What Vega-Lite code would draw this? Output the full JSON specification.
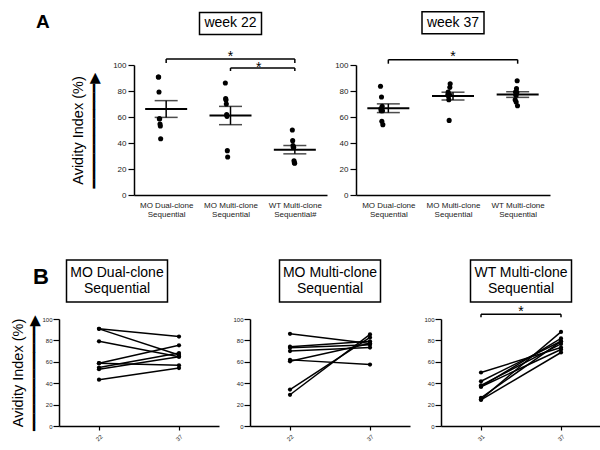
{
  "$schema": "https://vega.github.io/schema/vega-lite/v6.json",
  "background": "white",
  "padding": {"left": 10, "top": 8, "right": 0, "bottom": 0},
  "config": {
    "view": {"stroke": null},
    "font": "Liberation Sans",
    "axis": {"labelFont": "Liberation Sans", "titleFont": "Liberation Sans, DejaVu Sans", "domainColor": "#000", "tickColor": "#000", "labelColor": "#222", "grid": false, "titleFontWeight": "normal", "titleColor": "#000", "domainWidth": 1.5, "tickWidth": 1.2, "labelOverlap": false},
    "title": {"font": "Liberation Sans", "fontWeight": "bold", "color": "#000"}
  },
  "datasets": {
    "avidity": [
      {"group": "MO Dual-clone Sequential", "id": "D1", "visit": "first", "week": "22", "avidity": 90.8},
      {"group": "MO Dual-clone Sequential", "id": "D2", "visit": "first", "week": "22", "avidity": 90.8},
      {"group": "MO Dual-clone Sequential", "id": "D3", "visit": "first", "week": "22", "avidity": 79.2},
      {"group": "MO Dual-clone Sequential", "id": "D4", "visit": "first", "week": "22", "avidity": 58.7},
      {"group": "MO Dual-clone Sequential", "id": "D5", "visit": "first", "week": "22", "avidity": 58.7},
      {"group": "MO Dual-clone Sequential", "id": "D6", "visit": "first", "week": "22", "avidity": 54.6},
      {"group": "MO Dual-clone Sequential", "id": "D7", "visit": "first", "week": "22", "avidity": 53.1},
      {"group": "MO Dual-clone Sequential", "id": "D8", "visit": "first", "week": "22", "avidity": 43.3},
      {"group": "MO Dual-clone Sequential", "id": "D1", "visit": "second", "week": "37", "avidity": 83.6},
      {"group": "MO Dual-clone Sequential", "id": "D2", "visit": "second", "week": "37", "avidity": 66.4},
      {"group": "MO Dual-clone Sequential", "id": "D3", "visit": "second", "week": "37", "avidity": 64.8},
      {"group": "MO Dual-clone Sequential", "id": "D4", "visit": "second", "week": "37", "avidity": 75.4},
      {"group": "MO Dual-clone Sequential", "id": "D5", "visit": "second", "week": "37", "avidity": 56.7},
      {"group": "MO Dual-clone Sequential", "id": "D6", "visit": "second", "week": "37", "avidity": 68.2},
      {"group": "MO Dual-clone Sequential", "id": "D7", "visit": "second", "week": "37", "avidity": 64.8},
      {"group": "MO Dual-clone Sequential", "id": "D8", "visit": "second", "week": "37", "avidity": 54.1},
      {"group": "MO Multi-clone Sequential", "id": "M1", "visit": "first", "week": "22", "avidity": 86.2},
      {"group": "MO Multi-clone Sequential", "id": "M2", "visit": "first", "week": "22", "avidity": 74.1},
      {"group": "MO Multi-clone Sequential", "id": "M3", "visit": "first", "week": "22", "avidity": 73.1},
      {"group": "MO Multi-clone Sequential", "id": "M4", "visit": "first", "week": "22", "avidity": 70.0},
      {"group": "MO Multi-clone Sequential", "id": "M5", "visit": "first", "week": "22", "avidity": 61.8},
      {"group": "MO Multi-clone Sequential", "id": "M6", "visit": "first", "week": "22", "avidity": 60.5},
      {"group": "MO Multi-clone Sequential", "id": "M7", "visit": "first", "week": "22", "avidity": 34.1},
      {"group": "MO Multi-clone Sequential", "id": "M8", "visit": "first", "week": "22", "avidity": 29.2},
      {"group": "MO Multi-clone Sequential", "id": "M1", "visit": "second", "week": "37", "avidity": 77.2},
      {"group": "MO Multi-clone Sequential", "id": "M2", "visit": "second", "week": "37", "avidity": 79.2},
      {"group": "MO Multi-clone Sequential", "id": "M3", "visit": "second", "week": "37", "avidity": 75.9},
      {"group": "MO Multi-clone Sequential", "id": "M4", "visit": "second", "week": "37", "avidity": 73.3},
      {"group": "MO Multi-clone Sequential", "id": "M5", "visit": "second", "week": "37", "avidity": 57.4},
      {"group": "MO Multi-clone Sequential", "id": "M6", "visit": "second", "week": "37", "avidity": 77.2},
      {"group": "MO Multi-clone Sequential", "id": "M7", "visit": "second", "week": "37", "avidity": 82.8},
      {"group": "MO Multi-clone Sequential", "id": "M8", "visit": "second", "week": "37", "avidity": 85.6},
      {"group": "WT Multi-clone Sequential", "id": "W1", "visit": "first", "week": "31", "avidity": 50.0},
      {"group": "WT Multi-clone Sequential", "id": "W2", "visit": "first", "week": "31", "avidity": 41.8},
      {"group": "WT Multi-clone Sequential", "id": "W3", "visit": "first", "week": "31", "avidity": 38.0},
      {"group": "WT Multi-clone Sequential", "id": "W4", "visit": "first", "week": "31", "avidity": 36.7},
      {"group": "WT Multi-clone Sequential", "id": "W5", "visit": "first", "week": "31", "avidity": 36.7},
      {"group": "WT Multi-clone Sequential", "id": "W6", "visit": "first", "week": "31", "avidity": 26.4},
      {"group": "WT Multi-clone Sequential", "id": "W7", "visit": "first", "week": "31", "avidity": 24.9},
      {"group": "WT Multi-clone Sequential", "id": "W8", "visit": "first", "week": "31", "avidity": 24.4},
      {"group": "WT Multi-clone Sequential", "id": "W1", "visit": "second", "week": "37", "avidity": 73.3},
      {"group": "WT Multi-clone Sequential", "id": "W2", "visit": "second", "week": "37", "avidity": 79.2},
      {"group": "WT Multi-clone Sequential", "id": "W3", "visit": "second", "week": "37", "avidity": 76.7},
      {"group": "WT Multi-clone Sequential", "id": "W4", "visit": "second", "week": "37", "avidity": 71.5},
      {"group": "WT Multi-clone Sequential", "id": "W5", "visit": "second", "week": "37", "avidity": 81.8},
      {"group": "WT Multi-clone Sequential", "id": "W6", "visit": "second", "week": "37", "avidity": 79.0},
      {"group": "WT Multi-clone Sequential", "id": "W7", "visit": "second", "week": "37", "avidity": 87.9},
      {"group": "WT Multi-clone Sequential", "id": "W8", "visit": "second", "week": "37", "avidity": 68.7}
    ]
  },
  "spacing": 38,
  "vconcat": [
    {
      "title": {"text": "A", "anchor": "start", "fontSize": 19, "offset": -23, "dx": 21},
      "spacing": 7,
      "hconcat": [
        {
          "width": 312, "height": 130,
          "resolve": {"axis": {"x": "independent", "y": "independent"}},
          "layer": [
            {
              "data": {"name": "avidity"},
              "transform": [{"filter": "datum.visit == 'first'"}],
              "mark": {"type": "circle", "size": 26, "color": "black", "opacity": 1},
              "encoding": {
                "x": {"field": "group", "type": "nominal", "scale": {"type": "point", "padding": 0.5, "range": [119, 312]},
                      "axis": {"title": null, "ticks": false, "labelAngle": 0, "labelFontSize": 8, "labelLineHeight": 9.5, "labelPadding": 6,
                               "labelExpr": "[replace(datum.value, ' Sequential', ''), datum.value == 'WT Multi-clone Sequential' ? 'Sequential#' : 'Sequential']"}},
                "xOffset": {"field": "id", "type": "nominal",
                            "scale": {"domain": ["D1","D2","D3","D4","D5","D6","D7","D8","M1","M2","M3","M4","M5","M6","M7","M8","W1","W2","W3","W4","W5","W6","W7","W8"],
                                      "range": [-8,0,0,-16,8,-8,0,0, 0,-8,8,0,-8,0,8,0, 0,-16,8,-8,0,-8,8,0]}},
                "y": {"field": "avidity", "type": "quantitative", "scale": {"domain": [0, 100], "nice": false},
                      "axis": {"offset": -119, "values": [0,20,40,60,80,100], "labelFontSize": 8, "tickSize": 6, "labelPadding": 2,
                               "title": ["Avidity Index (%)", "━━━━━━━━━━━━▶"], "titleFontSize": 14.5, "titleLineHeight": 16, "titlePadding": 11}}
              }
            },
            {
              "data": {"name": "avidity"},
              "transform": [{"filter": "datum.visit == 'first'"}],
              "mark": {"type": "tick", "color": "black", "size": 42, "thickness": 2},
              "encoding": {
                "x": {"field": "group", "type": "nominal", "axis": null},
                "y": {"aggregate": "mean", "field": "avidity", "type": "quantitative", "axis": null}
              }
            },
            {
              "data": {"name": "avidity"},
              "transform": [{"filter": "datum.visit == 'first'"}],
              "mark": {"type": "errorbar", "extent": "stderr", "ticks": {"size": 23}, "thickness": 1.5, "color": "black"},
              "encoding": {
                "x": {"field": "group", "type": "nominal", "axis": null},
                "y": {"field": "avidity", "type": "quantitative", "axis": null}
              }
            },
            {
              "data": {"values": [{"from": "MO Dual-clone Sequential", "to": "WT Multi-clone Sequential", "sig": "*"}]},
              "resolve": {"axis": {"x": "independent", "y": "independent"}},
              "layer": [
                {"mark": {"type": "rule", "color": "black", "strokeWidth": 1.5},
                 "encoding": {"x": {"field": "from", "type": "nominal", "axis": null}, "x2": {"field": "to"}, "y": {"datum": 104.6, "axis": null}}},
                {"transform": [{"fold": ["from", "to"], "as": ["end", "cat"]}],
                 "mark": {"type": "rule", "color": "black", "strokeWidth": 1.5},
                 "encoding": {"x": {"field": "cat", "type": "nominal", "axis": null}, "y": {"datum": 104.6, "axis": null}, "y2": {"datum": 101.5}}},
                {"mark": {"type": "text", "fontSize": 14, "baseline": "alphabetic", "color": "black"},
                 "encoding": {"text": {"field": "sig"}, "x": {"datum": "MO Multi-clone Sequential", "type": "nominal", "axis": null}, "y": {"datum": 103.3, "axis": null}}}
              ]
            },
            {
              "data": {"values": [{"from": "MO Multi-clone Sequential", "to": "WT Multi-clone Sequential", "sig": "*"}]},
              "resolve": {"axis": {"x": "independent", "y": "independent"}},
              "layer": [
                {"mark": {"type": "rule", "color": "black", "strokeWidth": 1.5},
                 "encoding": {"x": {"field": "from", "type": "nominal", "axis": null}, "x2": {"field": "to"}, "y": {"datum": 97.7, "axis": null}}},
                {"transform": [{"fold": ["from", "to"], "as": ["end", "cat"]}],
                 "mark": {"type": "rule", "color": "black", "strokeWidth": 1.5},
                 "encoding": {"x": {"field": "cat", "type": "nominal", "axis": null}, "y": {"datum": 97.7, "axis": null}, "y2": {"datum": 95.4}}},
                {"mark": {"type": "text", "fontSize": 14, "baseline": "alphabetic", "color": "black", "dx": -36},
                 "encoding": {"text": {"field": "sig"}, "x": {"field": "to", "type": "nominal", "axis": null}, "y": {"datum": 94.6, "axis": null}}}
              ]
            },
            {
              "data": {"values": [{"label": "week 22"}]},
              "resolve": {"axis": {"x": "independent", "y": "independent"}},
              "layer": [
                {"mark": {"type": "point", "shape": "M-1,-0.355H1V0.355H-1Z", "size": 3844, "filled": false, "color": "black", "strokeWidth": 1.5, "opacity": 1},
                 "encoding": {"x": {"datum": "MO Multi-clone Sequential", "type": "nominal", "axis": null}, "y": {"datum": 132, "axis": null}}},
                {"mark": {"type": "text", "fontSize": 14, "baseline": "middle", "color": "black"},
                 "encoding": {"text": {"field": "label"}, "x": {"datum": "MO Multi-clone Sequential", "type": "nominal", "axis": null}, "y": {"datum": 132, "axis": null}}}
              ]
            }
          ]
        },
        {
          "width": 194, "height": 130,
          "resolve": {"axis": {"x": "independent", "y": "independent"}},
          "layer": [
            {
              "data": {"name": "avidity"},
              "transform": [{"filter": "datum.visit == 'second'"}],
              "mark": {"type": "circle", "size": 26, "color": "black", "opacity": 1},
              "encoding": {
                "x": {"field": "group", "type": "nominal", "scale": {"type": "point", "padding": 0.5},
                      "axis": {"title": null, "ticks": false, "labelAngle": 0, "labelFontSize": 8, "labelLineHeight": 9.5, "labelPadding": 6,
                               "labelExpr": "[replace(datum.value, ' Sequential', ''), 'Sequential']"}},
                "xOffset": {"field": "id", "type": "nominal",
                            "scale": {"domain": ["D1","D2","D3","D4","D5","D6","D7","D8","M1","M2","M3","M4","M5","M6","M7","M8","W1","W2","W3","W4","W5","W6","W7","W8"],
                                      "range": [0,8,-7.5,0,7.5,-15,0,0, -7,-15,0,0,0,8,0,8, -8,8,0,8,-16,-8,0,0]}},
                "y": {"field": "avidity", "type": "quantitative", "scale": {"domain": [0, 100], "nice": false},
                      "axis": {"values": [0,20,40,60,80,100], "labelFontSize": 8, "tickSize": 6, "labelPadding": 2, "title": null}}
              }
            },
            {
              "data": {"name": "avidity"},
              "transform": [{"filter": "datum.visit == 'second'"}],
              "mark": {"type": "tick", "color": "black", "size": 42, "thickness": 2},
              "encoding": {
                "x": {"field": "group", "type": "nominal", "axis": null},
                "y": {"aggregate": "mean", "field": "avidity", "type": "quantitative", "axis": null}
              }
            },
            {
              "data": {"name": "avidity"},
              "transform": [{"filter": "datum.visit == 'second'"}],
              "mark": {"type": "errorbar", "extent": "stderr", "ticks": {"size": 23}, "thickness": 1.5, "color": "black"},
              "encoding": {
                "x": {"field": "group", "type": "nominal", "axis": null},
                "y": {"field": "avidity", "type": "quantitative", "axis": null}
              }
            },
            {
              "data": {"values": [{"from": "MO Dual-clone Sequential", "to": "WT Multi-clone Sequential", "sig": "*"}]},
              "resolve": {"axis": {"x": "independent", "y": "independent"}},
              "layer": [
                {"mark": {"type": "rule", "color": "black", "strokeWidth": 1.5},
                 "encoding": {"x": {"field": "from", "type": "nominal", "axis": null}, "x2": {"field": "to"}, "y": {"datum": 104.1, "axis": null}}},
                {"transform": [{"fold": ["from", "to"], "as": ["end", "cat"]}],
                 "mark": {"type": "rule", "color": "black", "strokeWidth": 1.5},
                 "encoding": {"x": {"field": "cat", "type": "nominal", "axis": null}, "y": {"datum": 104.1, "axis": null}, "y2": {"datum": 101}}},
                {"mark": {"type": "text", "fontSize": 14, "baseline": "alphabetic", "color": "black"},
                 "encoding": {"text": {"field": "sig"}, "x": {"datum": "MO Multi-clone Sequential", "type": "nominal", "axis": null}, "y": {"datum": 103.3, "axis": null}}}
              ]
            },
            {
              "data": {"values": [{"label": "week 37"}]},
              "resolve": {"axis": {"x": "independent", "y": "independent"}},
              "layer": [
                {"mark": {"type": "point", "shape": "M-1,-0.355H1V0.355H-1Z", "size": 3844, "filled": false, "color": "black", "strokeWidth": 1.5, "opacity": 1},
                 "encoding": {"x": {"datum": "MO Multi-clone Sequential", "type": "nominal", "axis": null}, "y": {"datum": 132.5, "axis": null}}},
                {"mark": {"type": "text", "fontSize": 14, "baseline": "middle", "color": "black"},
                 "encoding": {"text": {"field": "label"}, "x": {"datum": "MO Multi-clone Sequential", "type": "nominal", "axis": null}, "y": {"datum": 132.5, "axis": null}}}
              ]
            }
          ]
        }
      ]
    },
    {
      "title": {"text": "B", "anchor": "start", "fontSize": 22, "offset": -32, "dx": 22},
      "spacing": 13,
      "hconcat": [
        {
          "width": 204, "height": 107,
          "resolve": {"axis": {"x": "independent", "y": "independent"}},
          "layer": [
            {
              "data": {"name": "avidity"},
              "transform": [{"filter": "datum.group == 'MO Dual-clone Sequential'"}],
              "mark": {"type": "line", "color": "black", "strokeWidth": 1.5},
              "encoding": {
                "x": {"field": "week", "type": "ordinal", "scale": {"type": "point", "padding": 0.5, "range": [44, 204]},
                      "axis": {"title": null, "labelAngle": -45, "labelFontSize": 6, "tickSize": 4, "labelPadding": 3}},
                "y": {"field": "avidity", "type": "quantitative", "scale": {"domain": [0, 100], "nice": false},
                      "axis": {"offset": -44, "values": [0,20,40,60,80,100], "labelFontSize": 6, "tickSize": 6, "labelPadding": 1,
                               "title": ["Avidity Index (%)", "━━━━━━━━━━━━▶"], "titleFontSize": 14.5, "titleLineHeight": 16, "titlePadding": 0}},
                "detail": {"field": "id"}
              }
            },
            {
              "data": {"name": "avidity"},
              "transform": [{"filter": "datum.group == 'MO Dual-clone Sequential'"}],
              "mark": {"type": "circle", "size": 18, "color": "black", "opacity": 1},
              "encoding": {
                "x": {"field": "week", "type": "ordinal", "axis": null},
                "y": {"field": "avidity", "type": "quantitative", "axis": null}
              }
            },
            {
              "data": {"values": [{"label": "MO Dual-clone\nSequential"}]},
              "resolve": {"axis": {"x": "independent", "y": "independent"}},
              "layer": [
                {"mark": {"type": "point", "shape": "M-1,-0.416H1V0.416H-1Z", "size": 10201, "filled": false, "color": "black", "strokeWidth": 1.5, "opacity": 1},
                 "encoding": {"y": {"datum": 135.5, "axis": null}}},
                {"mark": {"type": "text", "fontSize": 14, "baseline": "middle", "color": "black", "lineBreak": "\n", "lineHeight": 16},
                 "encoding": {"text": {"field": "label"}, "y": {"datum": 143, "axis": null}}}
              ]
            }
          ]
        },
        {
          "width": 160, "height": 107,
          "resolve": {"axis": {"x": "independent", "y": "independent"}},
          "layer": [
            {
              "data": {"name": "avidity"},
              "transform": [{"filter": "datum.group == 'MO Multi-clone Sequential'"}],
              "mark": {"type": "line", "color": "black", "strokeWidth": 1.5},
              "encoding": {
                "x": {"field": "week", "type": "ordinal", "scale": {"type": "point", "padding": 0.5},
                      "axis": {"title": null, "labelAngle": -45, "labelFontSize": 6, "tickSize": 4, "labelPadding": 3}},
                "y": {"field": "avidity", "type": "quantitative", "scale": {"domain": [0, 100], "nice": false},
                      "axis": {"values": [0,20,40,60,80,100], "labelFontSize": 6, "tickSize": 6, "labelPadding": 1, "title": null}},
                "detail": {"field": "id"}
              }
            },
            {
              "data": {"name": "avidity"},
              "transform": [{"filter": "datum.group == 'MO Multi-clone Sequential'"}],
              "mark": {"type": "circle", "size": 18, "color": "black", "opacity": 1},
              "encoding": {
                "x": {"field": "week", "type": "ordinal", "axis": null},
                "y": {"field": "avidity", "type": "quantitative", "axis": null}
              }
            },
            {
              "data": {"values": [{"label": "MO Multi-clone\nSequential"}]},
              "resolve": {"axis": {"x": "independent", "y": "independent"}},
              "layer": [
                {"mark": {"type": "point", "shape": "M-1,-0.416H1V0.416H-1Z", "size": 10201, "filled": false, "color": "black", "strokeWidth": 1.5, "opacity": 1},
                 "encoding": {"y": {"datum": 135.5, "axis": null}}},
                {"mark": {"type": "text", "fontSize": 14, "baseline": "middle", "color": "black", "lineBreak": "\n", "lineHeight": 16},
                 "encoding": {"text": {"field": "label"}, "y": {"datum": 143, "axis": null}}}
              ]
            }
          ]
        },
        {
          "width": 160, "height": 107,
          "resolve": {"axis": {"x": "independent", "y": "independent"}},
          "layer": [
            {
              "data": {"name": "avidity"},
              "transform": [{"filter": "datum.group == 'WT Multi-clone Sequential'"}],
              "mark": {"type": "line", "color": "black", "strokeWidth": 1.5},
              "encoding": {
                "x": {"field": "week", "type": "ordinal", "scale": {"type": "point", "padding": 0.5},
                      "axis": {"title": null, "labelAngle": -45, "labelFontSize": 6, "tickSize": 4, "labelPadding": 3}},
                "y": {"field": "avidity", "type": "quantitative", "scale": {"domain": [0, 100], "nice": false},
                      "axis": {"values": [0,20,40,60,80,100], "labelFontSize": 6, "tickSize": 6, "labelPadding": 1, "title": null}},
                "detail": {"field": "id"}
              }
            },
            {
              "data": {"name": "avidity"},
              "transform": [{"filter": "datum.group == 'WT Multi-clone Sequential'"}],
              "mark": {"type": "circle", "size": 18, "color": "black", "opacity": 1},
              "encoding": {
                "x": {"field": "week", "type": "ordinal", "axis": null},
                "y": {"field": "avidity", "type": "quantitative", "axis": null}
              }
            },
            {
              "data": {"values": [{"from": "31", "to": "37", "sig": "*"}]},
              "resolve": {"axis": {"x": "independent", "y": "independent"}},
              "layer": [
                {"mark": {"type": "rule", "color": "black", "strokeWidth": 1.5},
                 "encoding": {"x": {"field": "from", "type": "ordinal", "axis": null}, "x2": {"field": "to"}, "y": {"datum": 104.4, "axis": null}}},
                {"transform": [{"fold": ["from", "to"], "as": ["end", "cat"]}],
                 "mark": {"type": "rule", "color": "black", "strokeWidth": 1.5},
                 "encoding": {"x": {"field": "cat", "type": "ordinal", "axis": null}, "y": {"datum": 104.4, "axis": null}, "y2": {"datum": 101.6}}},
                {"mark": {"type": "text", "fontSize": 14, "baseline": "alphabetic", "color": "black"},
                 "encoding": {"text": {"field": "sig"}, "y": {"datum": 102.8, "axis": null}}}
              ]
            },
            {
              "data": {"values": [{"label": "WT Multi-clone\nSequential"}]},
              "resolve": {"axis": {"x": "independent", "y": "independent"}},
              "layer": [
                {"mark": {"type": "point", "shape": "M-1,-0.416H1V0.416H-1Z", "size": 10201, "filled": false, "color": "black", "strokeWidth": 1.5, "opacity": 1},
                 "encoding": {"y": {"datum": 135.5, "axis": null}}},
                {"mark": {"type": "text", "fontSize": 14, "baseline": "middle", "color": "black", "lineBreak": "\n", "lineHeight": 16},
                 "encoding": {"text": {"field": "label"}, "y": {"datum": 143, "axis": null}}}
              ]
            }
          ]
        }
      ]
    }
  ]
}
